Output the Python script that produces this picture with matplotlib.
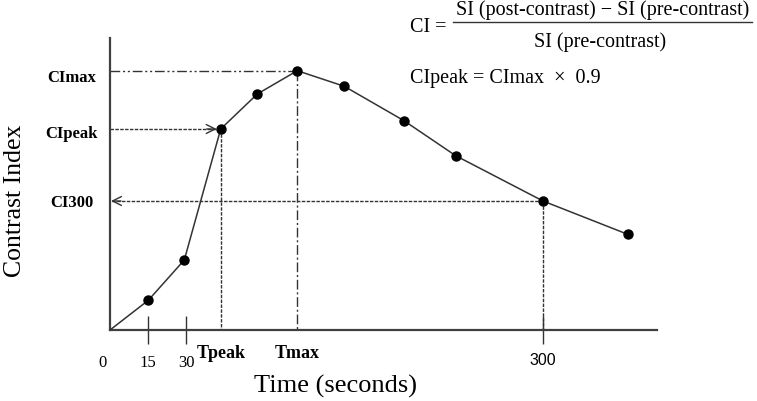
import matplotlib.pyplot as plt

# schematic curve (diagram units: x and y measured along the drawn axes)
time_pos = [38.3, 74.3, 110.7, 147.3, 187.3, 234.3, 294.0, 345.7, 433.0, 517.7]
ci_vals = [29.7, 70.0, 201.0, 236.0, 259.3, 243.7, 209.3, 174.3, 129.0, 95.7]

# time axis marks
tick_pos = [38.3, 76.0, 433.0]
num_labels = ["0", "15", "30"]
num_label_pos = [-7.5, 38.3, 76.0]
t_labels = ["Tpeak", "Tmax"]
t_label_pos = [110.7, 187.3]

# y-axis reference values
ci_labels = ["CImax", "CIpeak", "CI300"]
ci_label_y = [248, 192, 123]

T_PEAK, CI_PEAK = 110.7, 201.0
T_MAX, CI_MAX = 187.3, 259.3
T_300, CI_300 = 433.0, 129.0

LINE = "#333333"
plt.rcParams['font.family'] = ['Liberation Serif', 'DejaVu Serif']

fig = plt.figure(figsize=(7.57, 4.01), dpi=100)
ax = fig.add_axes([110 / 757, 71 / 401, 547 / 757, 292 / 401])
ax.set_xlim(0, 547)
ax.set_ylim(0, 292)

for s in ["top", "right"]:
    ax.spines[s].set_visible(False)
for s in ["left", "bottom"]:
    ax.spines[s].set_color("#404040")
    ax.spines[s].set_linewidth(1.6)

ax.set_yticks([])
ax.set_xticks(tick_pos)
ax.set_xticklabels([])
ax.tick_params(axis="x", direction="inout", length=20, width=1.0, color=LINE)

# main curve (starts at origin)
ax.plot([0] + time_pos, [0] + ci_vals, color=LINE, lw=1.1, zorder=3)
ax.plot(time_pos, ci_vals, "o", color="black", ms=6.5, zorder=4)

# CImax guides
ax.plot([0, T_MAX], [CI_MAX, CI_MAX], color=LINE, lw=1.0,
        dashes=(7, 2, 1.5, 2, 1.5, 2))
ax.plot([T_MAX, T_MAX], [CI_MAX, 0], color=LINE, lw=1.0, dashes=(7, 2, 1.5, 2))

# CIpeak guides
ax.plot([0, T_PEAK - 4], [CI_PEAK, CI_PEAK], color=LINE, lw=1.0, dashes=(2.5, 1))
ax.annotate("", xy=(T_PEAK - 4, CI_PEAK), xytext=(T_PEAK - 14, CI_PEAK),
            arrowprops=dict(arrowstyle="->", lw=1.0, color=LINE,
                            mutation_scale=16, shrinkA=0, shrinkB=0))
ax.plot([T_PEAK, T_PEAK], [CI_PEAK, 0], color=LINE, lw=1.0, dashes=(2.5, 1))

# CI300 guides
ax.plot([T_300, 1], [CI_300, CI_300], color=LINE, lw=1.0, dashes=(2.5, 1))
ax.annotate("", xy=(1, CI_300), xytext=(11, CI_300),
            arrowprops=dict(arrowstyle="->", lw=1.0, color=LINE,
                            mutation_scale=16, shrinkA=0, shrinkB=0))
ax.plot([T_300, T_300], [CI_300, 0], color=LINE, lw=1.0, dashes=(2.5, 1))

# labels on axes
for lab, x in zip(num_labels, num_label_pos):
    ax.text(x, -37, lab, ha="center", va="baseline", fontsize=12, clip_on=False)
ax.text(T_300, -35, "300", ha="center", va="baseline", fontsize=11.5,
        family="Liberation Sans", clip_on=False)
for lab, x in zip(t_labels, t_label_pos):
    ax.text(x, -28, lab, ha="center", va="baseline", fontsize=13,
            fontweight="bold", clip_on=False)
for lab, y in zip(ci_labels, ci_label_y):
    ax.text(-38, y, lab, ha="center", va="baseline", fontsize=12,
            fontweight="bold", clip_on=False)

ax.text(226, -63, "Time (seconds)", ha="center", va="baseline", fontsize=19,
        clip_on=False)
ax.text(-95, 129, "Contrast Index", ha="center", va="center", fontsize=18.5,
        rotation=90, clip_on=False)

# formulas
ax.text(300, 298, "CI =", ha="left", va="baseline", fontsize=14.5, clip_on=False)
ax.text(492.5, 315, "SI (post-contrast) \u2212 SI (pre-contrast)", ha="center",
        va="baseline", fontsize=14.5, clip_on=False)
ax.plot([343, 642], [308, 308], color=LINE, lw=1.0, clip_on=False)
ax.text(490, 283, "SI (pre-contrast)", ha="center", va="baseline", fontsize=14.5,
        clip_on=False)
ax.text(300, 247, "CIpeak = CImax  \u00d7  0.9", ha="left", va="baseline",
        fontsize=14.5, clip_on=False)

fig.savefig("out.png", dpi=100)
